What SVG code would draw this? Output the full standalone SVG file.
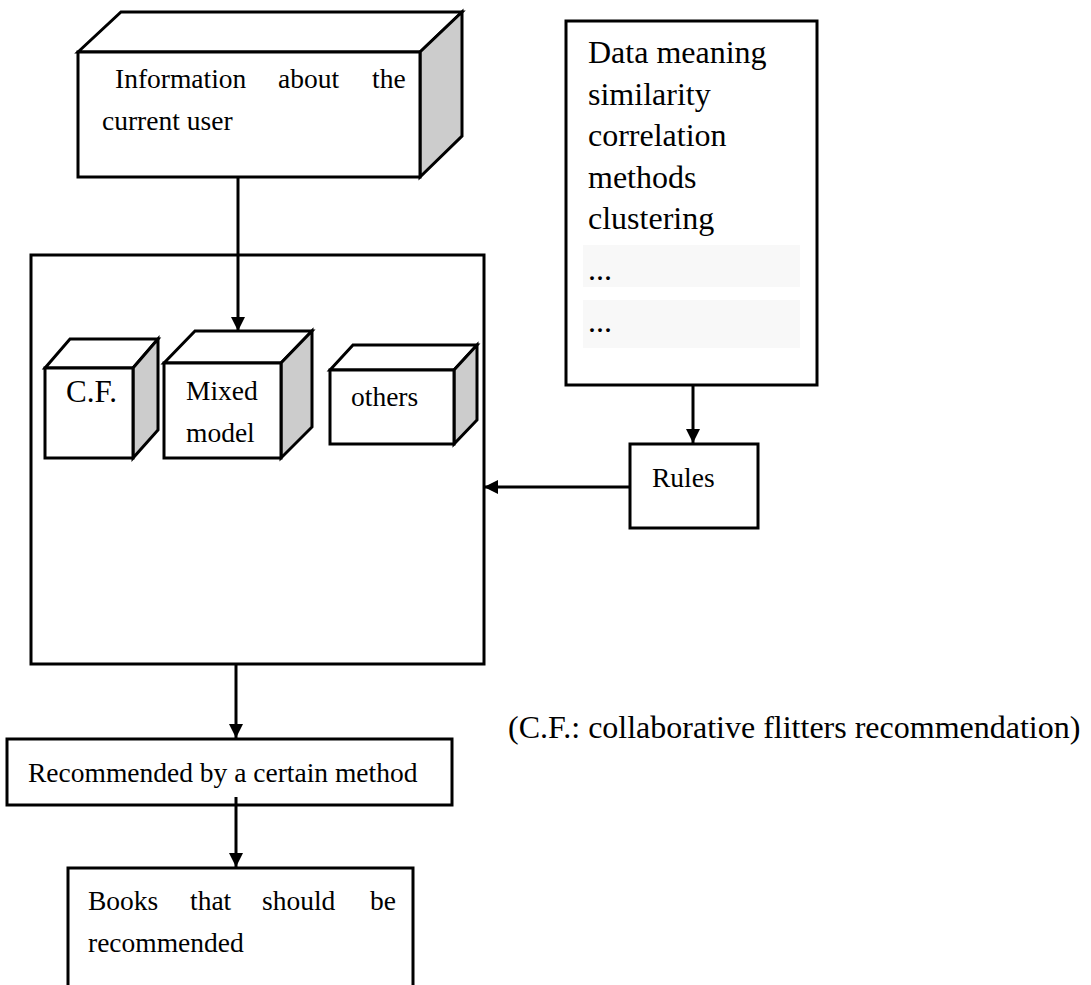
<svg xmlns="http://www.w3.org/2000/svg" width="1091" height="985" viewBox="0 0 1091 985">
<style>
.box{fill:#fff;stroke:#000;stroke-width:3;stroke-linejoin:miter}
.side{fill:#cccccc;stroke:#000;stroke-width:3;stroke-linejoin:miter}
.t{font-family:"Liberation Serif","Times New Roman",serif;font-size:27.5px;fill:#000}
.tl{font-family:"Liberation Serif","Times New Roman",serif;font-size:32px;fill:#000}
.c{fill:none;stroke:#000;stroke-width:3}
.band{fill:#f8f8f8}
</style>
<defs>
<marker id="ah" markerWidth="14" markerHeight="14" refX="14" refY="7" orient="auto" markerUnits="userSpaceOnUse">
<path d="M0,0 L14,7 L0,14 z" fill="#000"/>
</marker>
</defs>
<rect width="1091" height="985" fill="#fff"/>

<g id="info">
<polygon class="box" points="78,52 121,12 462,12 420,52"/>
<polygon class="side" points="420,52 462,12 462,136 420,177"/>
<rect class="box" x="78" y="52" width="342" height="125"/>
<text class="t" x="115" y="88">Information</text>
<text class="t" x="278" y="88">about</text>
<text class="t" x="372" y="88">the</text>
<text class="t" x="102" y="130">current user</text>
</g>

<g id="data">
<rect class="box" x="566" y="21" width="251" height="364"/>
<rect class="band" x="583" y="245" width="217" height="42"/>
<rect class="band" x="583" y="300" width="217" height="48"/>
<text class="tl" x="588" y="63">Data meaning</text>
<text class="tl" x="588" y="104.5">similarity</text>
<text class="tl" x="588" y="146">correlation</text>
<text class="tl" x="588" y="188">methods</text>
<text class="tl" x="588" y="229">clustering</text>
<text class="tl" x="588" y="280">...</text>
<text class="tl" x="588" y="332">...</text>
</g>

<g id="main">
<rect class="box" x="31" y="255" width="453" height="409"/>
</g>

<g id="cf">
<polygon class="box" points="45,368 70,339 158,339 133,368"/>
<polygon class="side" points="133,368 158,339 158,430 133,458"/>
<rect class="box" x="45" y="368" width="88" height="90"/>
<text class="tl" x="66" y="402" style="font-size:31px">C.F.</text>
</g>

<g id="mixed">
<polygon class="box" points="164,363 195,331 312,331 281,363"/>
<polygon class="side" points="281,363 312,331 312,427 281,458"/>
<rect class="box" x="164" y="363" width="117" height="95"/>
<text class="t" x="186" y="400">Mixed</text>
<text class="t" x="186" y="442">model</text>
</g>

<g id="others">
<polygon class="box" points="330,370 353,345 477,345 454,370"/>
<polygon class="side" points="454,370 477,345 477,420 454,444"/>
<rect class="box" x="330" y="370" width="124" height="74"/>
<text class="t" x="351" y="406">others</text>
</g>

<g id="rules">
<rect class="box" x="630" y="444" width="128" height="84"/>
<text class="t" x="652" y="487">Rules</text>
</g>

<g id="recommended">
<rect class="box" x="7" y="739" width="445" height="66"/>
<text class="t" x="28" y="782">Recommended by a certain method</text>
</g>

<g id="books">
<path class="c" d="M68,985 V868 H413 V985"/>
<text class="t" x="88" y="910">Books</text>
<text class="t" x="190" y="910">that</text>
<text class="t" x="262" y="910">should</text>
<text class="t" x="370" y="910">be</text>
<text class="t" x="88" y="952">recommended</text>
</g>

<g id="caption">
<text class="tl" x="508" y="738">(C.F.: collaborative flitters recommendation)</text>
</g>

<g id="connectors">
<line class="c" x1="238" y1="177" x2="238" y2="331" marker-end="url(#ah)"/>
<line class="c" x1="693" y1="385" x2="693" y2="443" marker-end="url(#ah)"/>
<line class="c" x1="630" y1="487" x2="484" y2="487" marker-end="url(#ah)"/>
<line class="c" x1="236" y1="664" x2="236" y2="738" marker-end="url(#ah)"/>
<line class="c" x1="236" y1="797" x2="236" y2="867" marker-end="url(#ah)"/>
</g>
</svg>
